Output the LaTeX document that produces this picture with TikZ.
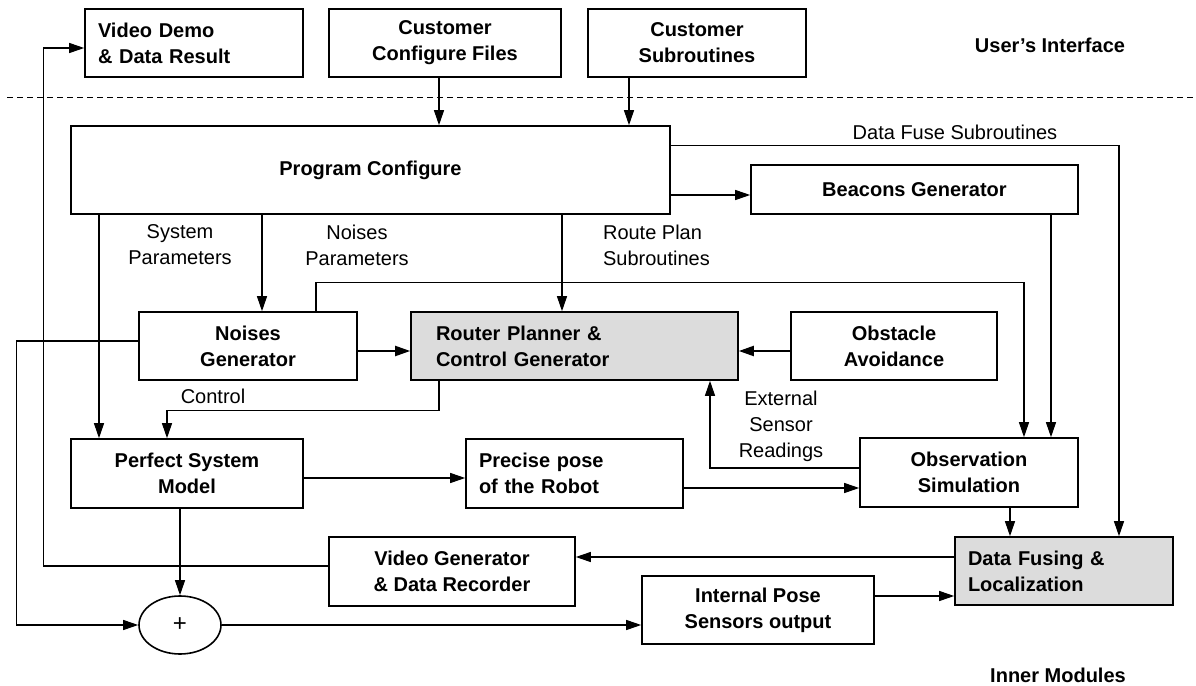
\documentclass[tikz,border=0pt]{standalone}
\usepackage{fontspec}
\setmainfont{Liberation Sans}
\usepackage{xcolor}
\usepackage{tikz}
\usetikzlibrary{arrows.meta}
\usetikzlibrary{shapes.geometric}
\definecolor{boxgray}{HTML}{DCDCDC}
\newcommand{\dfont}{\fontsize{10}{13}\selectfont}

\begin{document}
\begin{tikzpicture}[x=0.5pt, y=-0.5pt]

                \useasboundingbox (0,0) rectangle (1196,686);

                % Looks of the modules and of the links between them
                \tikzset{
                    box/.style={draw, line width=0.8pt, inner sep=0pt,
                        font=\dfont\bfseries, align=center},
                    grey/.style={box, fill=boxgray},
                    lbl/.style={font=\dfont, align=center},
                    link/.style={line width=0.55pt,
                        -{Triangle[length=7.5pt, width=5pt]}},
                    heavy/.style={line width=1pt}
                }

                % Scope used for the modules, centres given in pixels
                \begin{scope}

                    \node (demo) [box, minimum width=109pt, minimum height=34pt,
                        text width=96pt, align=left] at (194, 43)
                    {Video Demo\\\& Data Result};
                    \node (cfg) [box, minimum width=116pt, minimum height=34pt]
                    at (445, 43) {Customer\\Configure Files};
                    \node (sub) [box, minimum width=109pt, minimum height=34pt]
                    at (697, 43) {Customer\\Subroutines};
                    \node (ui) [lbl, font=\dfont\bfseries] at (1050, 45)
                    {User’s Interface};

                    \node (prog) [box, minimum width=299.5pt, minimum height=44pt]
                    at (370.5, 170) {Program Configure};
                    \node (beac) [box, minimum width=163.5pt, minimum height=24.5pt]
                    at (914.5, 189.5) {Beacons Generator};

                    \node (noise) [box, minimum width=109pt, minimum height=34pt]
                    at (248, 346) {Noises\\Generator};
                    \node (route) [grey, minimum width=163.5pt, minimum height=34pt,
                        text width=138.5pt, align=left] at (574.5, 346)
                    {Router Planner \&\\Control Generator};
                    \node (obst) [box, minimum width=103pt, minimum height=34pt]
                    at (894, 346) {Obstacle\\Avoidance};

                    \node (model) [box, minimum width=116pt, minimum height=34.5pt]
                    at (187, 473.5) {Perfect System\\Model};
                    \node (pose) [box, minimum width=108.5pt, minimum height=34.5pt,
                        text width=95.5pt, align=left] at (574.5, 473.5)
                    {Precise pose\\of the Robot};
                    \node (obs) [box, minimum width=109pt, minimum height=34.5pt]
                    at (969, 472.5) {Observation\\Simulation};

                    \node (video) [box, minimum width=123pt, minimum height=34.5pt]
                    at (452, 571.5) {Video Generator\\\& Data Recorder};
                    \node (fuse) [grey, minimum width=109pt, minimum height=34pt,
                        text width=96pt, align=left] at (1064, 571)
                    {Data Fusing \&\\Localization};
                    \node (int) [box, minimum width=116pt, minimum height=34pt]
                    at (758, 610) {Internal Pose\\Sensors output};
                    \node (sum) [draw, line width=0.8pt, ellipse, inner sep=0pt,
                        minimum width=41pt, minimum height=29pt,
                        font=\fontsize{12}{12}\selectfont] at (180, 625) {+};
                    \node (inner) [lbl, font=\dfont\bfseries] at (1058, 675)
                    {Inner Modules};

                    \node (lsys) [lbl] at (180, 245) {System\\Parameters};
                    \node (lnoise) [lbl] at (357, 245) {Noises\\Parameters};
                    \node (lroute) [lbl, anchor=west, align=left] at (596, 245)
                    {Route Plan\\Subroutines};
                    \node (lfuse) [lbl] at (955, 132) {Data Fuse Subroutines};
                    \node (lctrl) [lbl] at (213, 396) {Control};
                    \node (lext) [lbl] at (781, 426) {External\\Sensor\\Readings};
                \end{scope}

                % Border between the user side and the inner modules
                \draw[line width=0.5pt, dash pattern=on 3pt off 2pt]
                    (7, 97) -- (1196, 97);

                \begin{scope}[link]
                    \draw ([xshift=-3pt]cfg.south) -- ([xshift=-3pt]cfg.south |- prog.north);
                    \draw ([xshift=-34pt]sub.south) -- ([xshift=-34pt]sub.south |- prog.north);
                    \draw ([yshift=-10pt]prog.north east) -| ([xshift=27.5pt]fuse.north);
                    \draw ([yshift=-2.75pt]beac.west -| prog.east) -- ([yshift=-2.75pt]beac.west);
                    \draw ([xshift=68.25pt]beac.south) -- ([xshift=68.25pt]beac.south |- obs.north);
                    \draw ([xshift=34pt]noise.north) -- ++(0,-29) -| ([xshift=27.5pt]obs.north);
                    \draw ([xshift=-44pt]model.north |- prog.south) -- ([xshift=-44pt]model.north);
                    \draw ([xshift=7pt]noise.north |- prog.south) -- ([xshift=7pt]noise.north);
                    \draw ([xshift=-6.25pt]route.north |- prog.south) -- ([xshift=-6.25pt]route.north);
                    \draw[heavy] ([yshift=-2.5pt]noise.east) -- ([yshift=-2.5pt]route.west);
                    \draw[heavy] ([yshift=-2.5pt]obst.west) -- ([yshift=-2.5pt]route.east);
                    \draw ([xshift=-67.75pt]route.south) -- ++(0,30) -| ([xshift=-10pt]model.north);
                    \draw ([yshift=-2.25pt]model.east) -- ([yshift=-2.25pt]model.east -| pose.west);
                    \draw ([yshift=-7.25pt]pose.east) -- ([yshift=-7.25pt]pose.east -| obs.west);
                    \draw ([yshift=2.25pt]obs.west) -| ([xshift=67.75pt]route.south);
                    \draw ([xshift=20.5pt]obs.south) -- ([xshift=20.5pt]obs.south |- fuse.north);
                    \draw ([yshift=7pt]fuse.west) -- ([yshift=7pt]fuse.west -| video.east);
                    \draw ([yshift=7pt]int.east) -- ([yshift=7pt]int.east -| fuse.west);
                    \draw (sum.east) -- (sum.east -| int.west);
                    \draw (sum.north |- model.south) -- (sum.north);
                    \draw ([yshift=2.5pt]noise.west) -- ++(-122,0) |- (sum.west);
                    \draw ([yshift=2.75pt]video.west) -- ++(-285,0) |- ([yshift=-2.5pt]demo.west);
                \end{scope}

\end{tikzpicture}
\end{document}
